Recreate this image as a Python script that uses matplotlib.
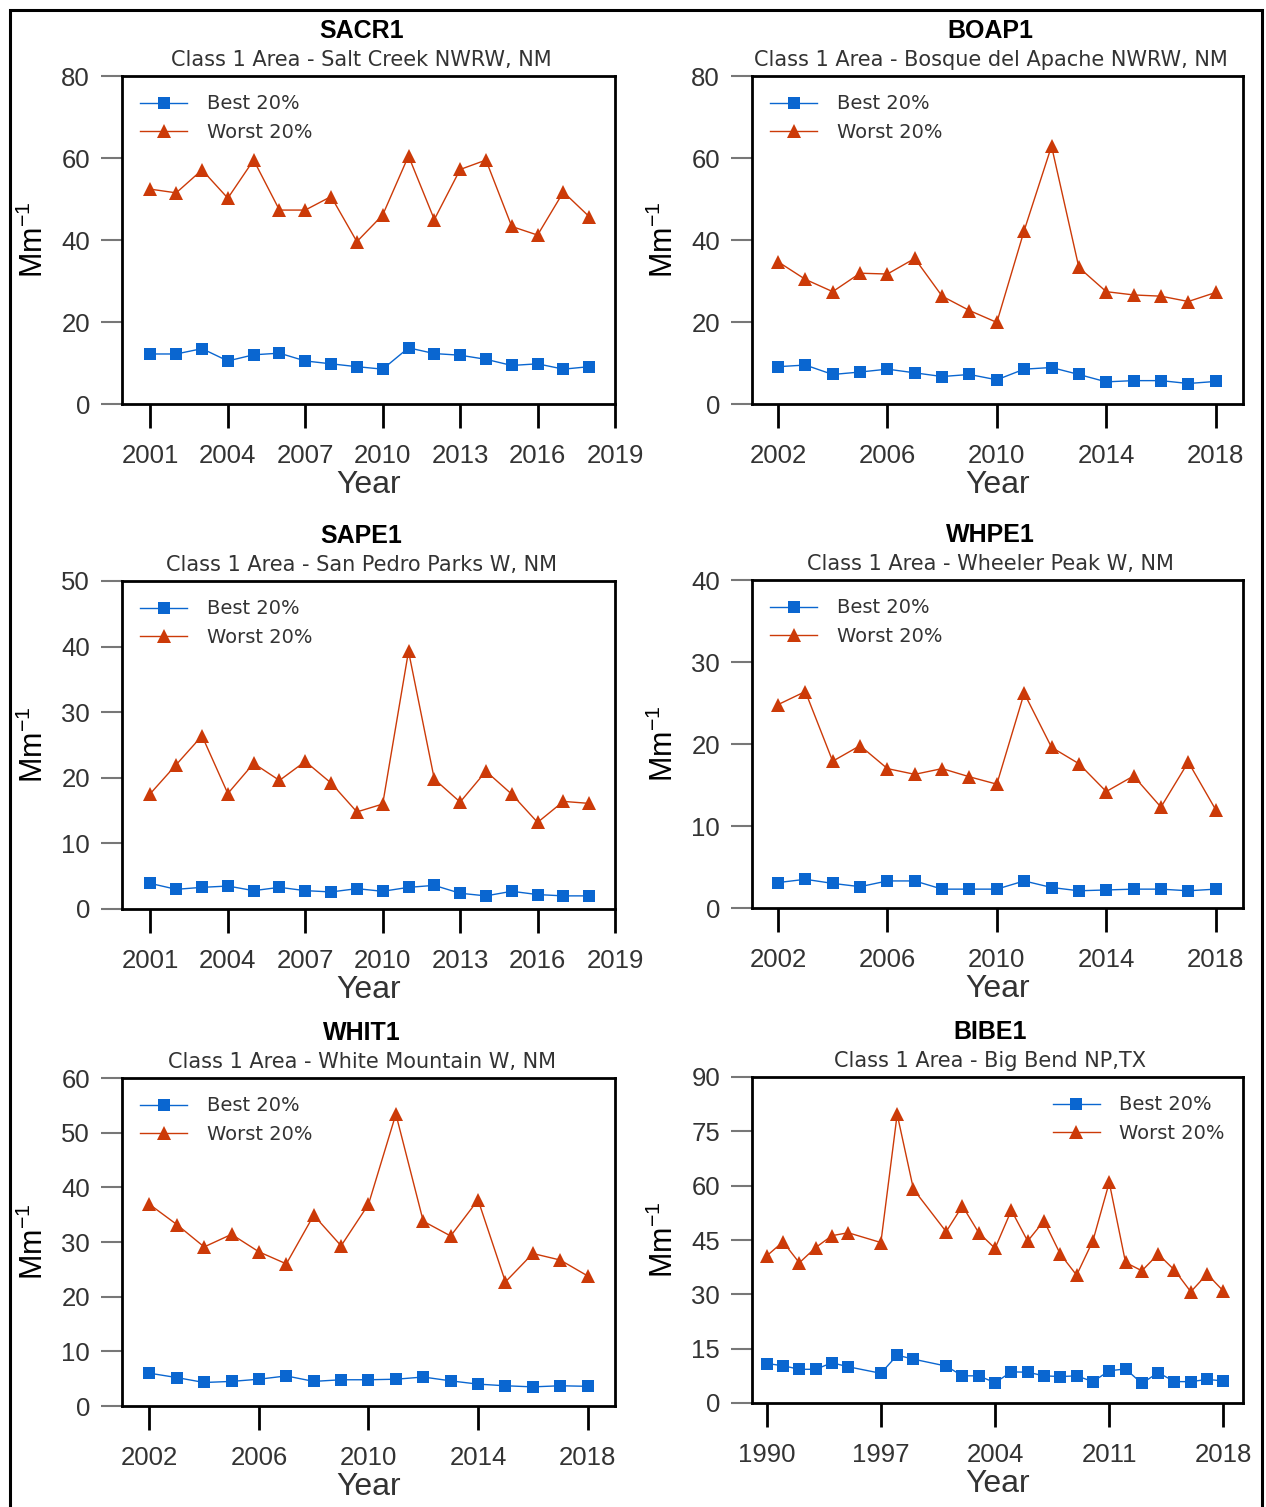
import matplotlib
matplotlib.use('Agg')
import matplotlib.pyplot as plt
from matplotlib.patches import Rectangle

# ---- data ----
yrs_2001 = list(range(2001, 2019))
yrs_2002 = list(range(2002, 2019))
yrs_bibe = [1990, 1991, 1992, 1993, 1994, 1995, 1997, 1998, 1999] + list(range(2001, 2019))

sacr_best = [12.2, 12.2, 13.5, 10.5, 12.0, 12.4, 10.5, 9.8, 9.1, 8.5, 13.7, 12.3,
             11.9, 10.9, 9.4, 9.8, 8.5, 9.1]
sacr_worst = [52.4, 51.5, 57.1, 50.2, 59.5, 47.3, 47.3, 50.6, 39.6, 46.1, 60.5, 45.0,
              57.2, 59.5, 43.3, 41.2, 51.7, 45.7]

boap_best = [9.1, 9.5, 7.2, 7.8, 8.5, 7.6, 6.7, 7.2, 5.9, 8.5, 8.9, 7.2, 5.4, 5.7,
             5.7, 5.0, 5.5]
boap_worst = [34.7, 30.4, 27.4, 31.9, 31.7, 35.5, 26.3, 22.8, 19.9, 42.3, 62.9, 33.3,
              27.4, 26.6, 26.3, 25.0, 27.2]

sape_best = [3.9, 3.0, 3.3, 3.5, 2.8, 3.3, 2.8, 2.6, 3.1, 2.7, 3.3, 3.6, 2.4, 2.0,
             2.7, 2.2, 2.0, 2.0]
sape_worst = [17.6, 22.0, 26.4, 17.6, 22.2, 19.6, 22.5, 19.2, 14.8, 16.0, 39.3, 19.8,
              16.3, 21.0, 17.5, 13.2, 16.4, 16.1]

whpe_best = [3.1, 3.5, 3.0, 2.6, 3.3, 3.3, 2.3, 2.3, 2.3, 3.3, 2.5, 2.1, 2.2, 2.3,
             2.3, 2.1, 2.3]
whpe_worst = [24.8, 26.4, 17.9, 19.8, 17.0, 16.3, 17.0, 16.0, 15.1, 26.2, 19.6, 17.6,
              14.2, 16.1, 12.3, 17.8, 12.0]

whit_best = [6.0, 5.2, 4.3, 4.5, 4.9, 5.5, 4.5, 4.8, 4.8, 4.9, 5.3, 4.6, 4.0, 3.7,
             3.5, 3.7, 3.6]
whit_worst = [36.9, 33.2, 29.1, 31.4, 28.2, 26.0, 34.9, 29.3, 36.9, 53.4, 33.8, 31.1,
              37.7, 22.7, 27.9, 26.7, 23.8]

bibe_best = [10.9, 10.3, 9.3, 9.3, 11.1, 10.0, 8.2, 13.2, 12.1, 10.2, 7.5, 7.5, 5.6,
             8.6, 8.5, 7.5, 7.3, 7.5, 5.9, 8.9, 9.4, 5.4, 8.4, 5.9, 5.9, 6.5, 6.1]
bibe_worst = [40.6, 44.5, 38.7, 42.9, 46.2, 47.0, 44.3, 79.7, 59.0, 47.3, 54.4, 47.0,
              42.7, 53.2, 44.7, 50.3, 41.1, 35.3, 44.8, 60.9, 38.8, 36.5, 41.1, 36.7,
              30.7, 35.6, 30.9]

panels = [
    ('SACR1', 'Class 1 Area - Salt Creek NWRW, NM', yrs_2001, sacr_best, sacr_worst,
     80, 20, [2001, 2004, 2007, 2010, 2013, 2016, 2019], (1999.9, 2019), 'upper left'),
    ('BOAP1', 'Class 1 Area - Bosque del Apache NWRW, NM', yrs_2002, boap_best, boap_worst,
     80, 20, [2002, 2006, 2010, 2014, 2018], (2001.05, 2019), 'upper left'),
    ('SAPE1', 'Class 1 Area - San Pedro Parks W, NM', yrs_2001, sape_best, sape_worst,
     50, 10, [2001, 2004, 2007, 2010, 2013, 2016, 2019], (1999.9, 2019), 'upper left'),
    ('WHPE1', 'Class 1 Area - Wheeler Peak W, NM', yrs_2002, whpe_best, whpe_worst,
     40, 10, [2002, 2006, 2010, 2014, 2018], (2001.05, 2019), 'upper left'),
    ('WHIT1', 'Class 1 Area - White Mountain W, NM', yrs_2002, whit_best, whit_worst,
     60, 10, [2002, 2006, 2010, 2014, 2018], (2001.0, 2019), 'upper left'),
    ('BIBE1', 'Class 1 Area - Big Bend NP,TX', yrs_bibe, bibe_best, bibe_worst,
     90, 15, [1990, 1997, 2004, 2011, 2018], (1989.1, 2019.2), 'upper right'),
]

# axes boxes in pixels: left, right, top, bottom
boxes = [
    (122, 615, 76, 404), (752, 1243, 76, 404),
    (122, 615, 581, 909), (752, 1243, 580, 908),
    (122, 615, 1078, 1406), (752, 1243, 1077, 1403),
]

W, H = 1266, 1507
BLUE = '#0a66d0'
RED = '#cc3a08'
GREY = '#333333'

plt.rcParams['font.family'] = ['Liberation Sans', 'DejaVu Sans']

fig = plt.figure(figsize=(W / 100, H / 100), dpi=100)

# outer frame
fig.patches.append(Rectangle((10 / W, -0.01), 1252 / W, 1 - 10 / H + 0.01,
                             transform=fig.transFigure, fill=False,
                             edgecolor='black', linewidth=2.2))

for (name, sub, x, best, worst, ymax, ystep, xt, xlim, loc), (l, r, t, b) in zip(panels, boxes):
    ax = fig.add_axes([l / W, 1 - b / H, (r - l) / W, (b - t) / H])
    ax.plot(x, best, color=BLUE, marker='s', markersize=8.5, linewidth=1.0,
            markeredgewidth=0, label='Best 20%')
    ax.plot(x, worst, color=RED, marker='^', markersize=9.5, linewidth=1.0,
            markeredgewidth=0, label='Worst 20%')
    ax.set_xlim(*xlim)
    ax.set_ylim(0, ymax)
    ax.set_xticks(xt)
    ax.set_yticks(range(0, ymax + 1, ystep))
    ax.tick_params(axis='x', direction='out', length=17, width=2, color='black',
                   labelsize=18.5, labelcolor=GREY, pad=12)
    ax.tick_params(axis='y', direction='out', length=15, width=1.5, color='#777777',
                   labelsize=18.5, labelcolor=GREY, pad=8)
    for sp in ax.spines.values():
        sp.set_linewidth(2)
        sp.set_color('black')
    ax.set_xlabel('Year', fontsize=23, color=GREY, labelpad=1)
    ax.set_ylabel(r'Mm$^{\mathregular{-1}}$', fontsize=22, color='black', labelpad=8)
    leg = ax.legend(loc=loc, frameon=False, prop={'family': 'DejaVu Sans', 'size': 14},
                    handlelength=2.4, borderaxespad=0.55, labelspacing=0.5,
                    handletextpad=1.0)
    for txt in leg.get_texts():
        txt.set_color(GREY)
    cx = (l + r) / 2 - 7
    fig.text(cx / W, 1 - 31 / H - (t - 76) / H, name, ha='center', va='center',
             fontsize=18, fontweight='bold', color='black')
    fig.text(cx / W, 1 - 60 / H - (t - 76) / H, sub, ha='center', va='center',
             fontsize=15, color=GREY, family='DejaVu Sans')

fig.savefig('out.png', dpi=100)
